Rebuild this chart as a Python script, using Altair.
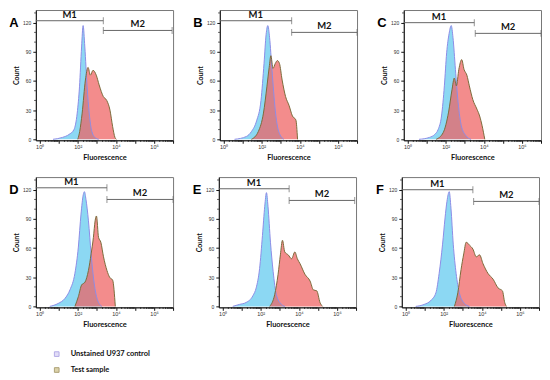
import math
import altair as alt
import pandas as pd

# ---- data (log10 fluorescence, count) ----
A_ctrl_x = [0.7, 1.2, 1.54, 1.8, 1.97, 2.09, 2.2, 2.28, 2.37, 2.49, 2.6, 2.74, 2.9, 3.1]
A_ctrl_y = [0, 2, 5, 10, 27, 54, 95, 117, 95, 54, 27, 8, 2, 0]
A_test_x = [2.0, 2.1, 2.23, 2.4, 2.54, 2.66, 2.8, 2.97, 3.12, 3.34, 3.52, 3.69, 3.83, 3.95, 4.03]
A_test_y = [0, 8, 27, 61, 74, 66, 71, 66, 56, 44, 40, 30, 13, 2, 0]

B_ctrl_x = [0.57, 1.2, 1.46, 1.73, 1.96, 2.12, 2.23, 2.32, 2.41, 2.54, 2.71, 2.89, 3.16]
B_ctrl_y = [0, 3, 8, 19, 40, 78, 108, 117, 105, 71, 30, 8, 0]
B_test_x = [1.46, 1.82, 2.09, 2.27, 2.39, 2.48, 2.59, 2.71, 2.82, 2.93, 3.07, 3.25, 3.43, 3.61, 3.79, 3.88]
B_test_y = [0, 8, 27, 54, 74, 86, 73, 78, 81, 78, 61, 44, 35, 24, 20, 0]

C_ctrl_x = [0.6, 1.15, 1.42, 1.6, 1.78, 1.93, 2.05, 2.18, 2.29, 2.38, 2.51, 2.65, 2.82, 3.05, 3.33]
C_ctrl_y = [0, 2, 5, 10, 24, 55, 89, 109, 117, 105, 72, 38, 14, 4, 0]
C_test_x = [1.5, 1.87, 2.15, 2.33, 2.45, 2.56, 2.69, 2.84, 2.96, 3.11, 3.24, 3.42, 3.64, 3.78, 3.91, 4.05]
C_test_y = [0, 7, 28, 51, 63, 55, 72, 82, 72, 66, 55, 41, 31, 24, 14, 0]

D_ctrl_x = [0.53, 0.97, 1.32, 1.59, 1.85, 2.03, 2.17, 2.29, 2.35, 2.43, 2.56, 2.7, 2.86, 3.03, 3.26]
D_ctrl_y = [0, 3, 8, 17, 34, 61, 95, 115, 118, 110, 88, 54, 24, 7, 0]
D_test_x = [1.85, 2.03, 2.2, 2.38, 2.56, 2.7, 2.82, 2.91, 2.98, 3.09, 3.21, 3.35, 3.53, 3.67, 3.83, 3.97]
D_test_y = [0, 10, 22, 25, 37, 54, 71, 88, 93, 71, 66, 51, 37, 30, 27, 0]

E_ctrl_x = [0.53, 0.88, 1.23, 1.59, 1.76, 1.94, 2.09, 2.21, 2.3, 2.38, 2.51, 2.65, 2.82, 3.09, 3.27]
E_ctrl_y = [0, 2, 4, 11, 19, 39, 73, 103, 117, 103, 66, 36, 12, 2, 0]
E_test_x = [2.47, 2.73, 2.91, 3.03, 3.14, 3.26, 3.44, 3.62, 3.79, 3.92, 4.06, 4.32, 4.59, 4.76, 4.94, 5.11, 5.24]
E_test_y = [0, 12, 33, 53, 68, 56, 53, 49, 56, 49, 44, 33, 26, 17, 16, 4, 0]

F_ctrl_x = [0.53, 0.97, 1.32, 1.59, 1.76, 1.94, 2.07, 2.17, 2.29, 2.38, 2.5, 2.65, 2.82, 3.09, 3.35]
F_ctrl_y = [0, 2, 6, 14, 34, 64, 91, 108, 118, 101, 64, 34, 14, 3, 0]
F_test_x = [2.56, 2.74, 2.91, 3.05, 3.18, 3.35, 3.53, 3.71, 3.88, 4.06, 4.32, 4.59, 4.85, 5.08, 5.2, 5.29]
F_test_y = [0, 14, 38, 54, 66, 63, 59, 51, 53, 44, 34, 28, 19, 16, 4, 0]

# gates: M1 end, M1 level, M2 start, M2 end, M2 level
A_gate = [3.34, 122, 3.34, 6.95, 112]
B_gate = [3.57, 122, 3.57, 7.0, 110]
C_gate = [3.50, 120, 3.55, 7.0, 109]
D_gate = [3.53, 122, 3.53, 7.0, 110]
E_gate = [3.49, 121, 3.49, 6.93, 109]
F_gate = [3.53, 120, 3.57, 7.0, 108]

legend_labels = ["Unstained U937 control", "Test sample"]
x_major = [0, 1, 2, 3, 4, 5, 6, 7]
y_major = [0, 30, 60, 90, 120]

# ---- style ----
X_MIN, X_MAX = -0.2, 7.0
W, H = 138, 131
BLUE_FILL, BLUE_LINE = "#7fd4f2", "#8c8ce6"
RED_FILL, RED_LINE = "#ee5f5f", "#7b6b3a"
GATE = "#666666"
LBL_FONT = "Lato"

# minor tick positions (axis decoration)
x_minor = [round(d + math.log10(k), 4) for d in range(0, 7) for k in range(2, 10)]
y_minor = [v for v in range(0, 131, 10) if v % 30 != 0]

sup = "['\u2070','\u00b9','\u00b2','\u00b3','\u2074','\u2075','\u2076','\u2077']"
x_axis = alt.Axis(
    values=x_major,
    labelExpr="datum.value % 2 == 0 ? '10' + " + sup + "[datum.value] : ''",
    tickSize=3,
    labelFontSize=5.5, labelColor="#333", labelPadding=1, labelOverlap=False, labelFlush=False,
    title="Fluorescence", titleFontSize=7.5, titleFont=LBL_FONT, titleFontWeight="bold",
    titlePadding=4, titleColor="#111",
    grid=False, domainColor="#111", tickColor="#111",
)
y_axis = alt.Axis(
    values=y_major,
    tickSize=3,
    labelFontSize=5, labelColor="#333", labelPadding=2, labelOverlap=False,
    title="Count", titleFontSize=7, titleFont=LBL_FONT, titleFontWeight="bold",
    titlePadding=3, titleColor="#111",
    grid=False, domainColor="#111", tickColor="#111",
)
xs = alt.Scale(domain=[X_MIN, X_MAX], nice=False, zero=False)
ys = alt.Scale(domain=[-1, 133], nice=False)


def X(f):
    return alt.X(f, scale=xs, axis=x_axis)


def Y(f):
    return alt.Y(f, scale=ys, axis=y_axis)


def panel(letter, cx, cy, tx, ty, gate):
    ctrl = pd.DataFrame({"x": cx, "y": cy})
    test = pd.DataFrame({"x": tx, "y": ty})
    m1_end, m1_y, m2_s, m2_e, m2_y = gate
    bars = pd.DataFrame({
        "x": [X_MIN, m2_s], "x2": [m1_end, m2_e], "y": [m1_y, m2_y],
        "lab": ["M1", "M2"], "mid": [(X_MIN + m1_end) / 2, (m2_s + m2_e) / 2],
    })
    caps = pd.DataFrame({"x": [m1_end, m2_s, m2_e], "y": [m1_y, m2_y, m2_y]})

    base_ctrl = alt.Chart(ctrl)
    a_ctrl = base_ctrl.mark_area(interpolate="monotone", color=BLUE_FILL, opacity=0.9).encode(
        x=X("x:Q"), y=Y("y:Q"))
    l_ctrl = base_ctrl.mark_line(interpolate="monotone", color=BLUE_LINE, strokeWidth=1).encode(
        x=X("x:Q"), y=Y("y:Q"))
    base_test = alt.Chart(test)
    a_test = base_test.mark_area(interpolate="monotone", color=RED_FILL, opacity=0.72).encode(
        x=X("x:Q"), y=Y("y:Q"))
    l_test = base_test.mark_line(interpolate="monotone", color=RED_LINE, strokeWidth=1).encode(
        x=X("x:Q"), y=Y("y:Q"))
    g = alt.Chart(bars).mark_rule(color=GATE, strokeWidth=1).encode(
        x=X("x:Q"), x2="x2:Q", y=Y("y:Q"))
    c = alt.Chart(caps).mark_tick(color=GATE, orient="vertical", size=7, thickness=1).encode(
        x=X("x:Q"), y=Y("y:Q"))
    t = alt.Chart(bars).mark_text(font=LBL_FONT, fontWeight="bold", fontSize=9.5, baseline="bottom",
                                  dy=-1, color="#111").encode(x=X("mid:Q"), y=Y("y:Q"), text="lab:N")
    xm = alt.Chart(pd.DataFrame({"v": x_minor})).mark_rule(color="#111", strokeWidth=0.8).encode(
        x=X("v:Q"), y=alt.value(H), y2=alt.value(H + 1.6))
    ym = alt.Chart(pd.DataFrame({"v": y_minor})).mark_rule(color="#111", strokeWidth=0.8).encode(
        y=Y("v:Q"), x=alt.value(0), x2=alt.value(-1.6))
    let = alt.Chart(pd.DataFrame({"l": [letter]})).mark_text(
        font="Liberation Sans", fontWeight="bold", fontSize=13, color="#000").encode(
        x=alt.value(-22), y=alt.value(13), text="l:N")
    return alt.layer(a_ctrl, a_test, l_ctrl, l_test, g, c, t, xm, ym, let).properties(width=W, height=H)


row1 = alt.hconcat(
    panel("A", A_ctrl_x, A_ctrl_y, A_test_x, A_test_y, A_gate),
    panel("B", B_ctrl_x, B_ctrl_y, B_test_x, B_test_y, B_gate),
    panel("C", C_ctrl_x, C_ctrl_y, C_test_x, C_test_y, C_gate),
    spacing=18,
)
row2 = alt.hconcat(
    panel("D", D_ctrl_x, D_ctrl_y, D_test_x, D_test_y, D_gate),
    panel("E", E_ctrl_x, E_ctrl_y, E_test_x, E_test_y, E_gate),
    panel("F", F_ctrl_x, F_ctrl_y, F_test_x, F_test_y, F_gate),
    spacing=18,
)

leg_df = pd.DataFrame({"label": legend_labels, "row": [0, 1],
                       "fill": ["#d6d0f4", "#cdbf86"], "stroke": ["#9488dc", "#8a7a3c"]})
leg_sq = alt.Chart(leg_df).mark_square(size=22, strokeWidth=1).encode(
    x=alt.value(21),
    y=alt.Y("row:Q", scale=alt.Scale(domain=[0, 1], range=[5, 21]), axis=None),
    fill=alt.Fill("fill:N", scale=None),
    stroke=alt.Stroke("stroke:N", scale=None),
)
leg_tx = alt.Chart(leg_df).mark_text(font=LBL_FONT, fontWeight="bold", fontSize=7.5, align="left",
                                     color="#111").encode(
    x=alt.value(35),
    y=alt.Y("row:Q", scale=alt.Scale(domain=[0, 1], range=[5, 21]), axis=None),
    text="label:N",
)
legend = alt.layer(leg_sq, leg_tx).properties(width=200, height=28, view={"stroke": "transparent"})

chart = alt.vconcat(
    alt.vconcat(row1, row2, spacing=14),
    legend,
    spacing=19,
).properties(
    padding={"left": 0, "top": 0, "right": 0, "bottom": 0}
).configure_view(stroke="#777", strokeWidth=1).configure_axis(labelOverlap=False)

chart.save("out.html", embed_options={"renderer": "svg", "actions": False})
